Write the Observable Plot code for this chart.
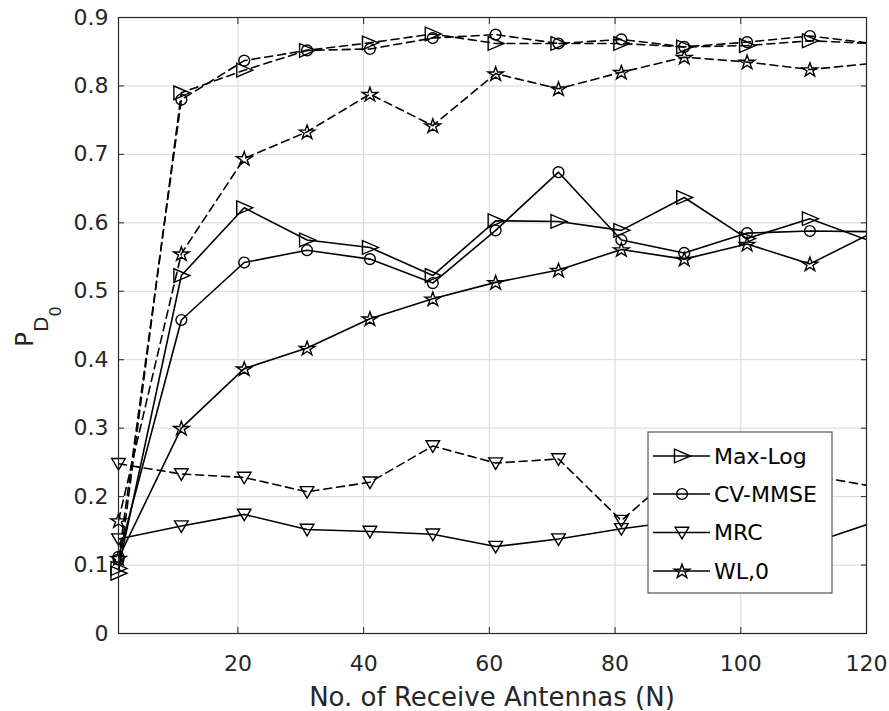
<!DOCTYPE html>
<html><head><meta charset="utf-8">
<script src="https://cdn.jsdelivr.net/npm/d3@7"></script>
<script src="https://cdn.jsdelivr.net/npm/@observablehq/plot@0.6"></script>
<style>body{margin:0;background:#fff}</style>
</head><body><div id="chart"></div>
<script>
// ---- data ----
const N = [1, 11, 21, 31, 41, 51, 61, 71, 81, 91, 101, 111, 121];
const maxLogSolid  = [0.095, 0.523, 0.622, 0.575, 0.564, 0.523, 0.603, 0.602, 0.589, 0.637, 0.577, 0.606, 0.572];
const maxLogDashed = [0.088, 0.790, 0.823, 0.852, 0.863, 0.876, 0.862, 0.862, 0.862, 0.857, 0.859, 0.866, 0.862];
const cvSolid      = [0.112, 0.458, 0.542, 0.560, 0.547, 0.512, 0.589, 0.674, 0.575, 0.556, 0.585, 0.588, 0.587];
const cvDashed     = [0.108, 0.780, 0.837, 0.852, 0.854, 0.870, 0.875, 0.862, 0.868, 0.857, 0.864, 0.873, 0.862];
const mrcSolid     = [0.138, 0.157, 0.174, 0.152, 0.149, 0.145, 0.127, 0.138, 0.153, 0.165, 0.150, 0.131, 0.162];
const mrcDashed    = [0.248, 0.233, 0.228, 0.207, 0.221, 0.274, 0.249, 0.255, 0.165, 0.245, 0.235, 0.231, 0.215];
const wlSolid      = [0.110, 0.300, 0.387, 0.417, 0.460, 0.489, 0.513, 0.531, 0.561, 0.547, 0.569, 0.540, 0.586];
const wlDashed     = [0.165, 0.555, 0.694, 0.733, 0.788, 0.742, 0.818, 0.796, 0.820, 0.842, 0.835, 0.824, 0.833];
const xTicks = [20, 40, 60, 80, 100, 120];
const yTicks = [0, 0.1, 0.2, 0.3, 0.4, 0.5, 0.6, 0.7, 0.8, 0.9];
const legendLabels = ["Max-Log", "CV-MMSE", "MRC", "WL,0"];
const xLabel = "No. of Receive Antennas (N)";

// ---- marker shapes (MATLAB-like) ----
const triRight = {draw(c) { c.moveTo(-7.5, -6.8); c.lineTo(8.5, 0); c.lineTo(-7.5, 6.8); c.closePath(); }};
const triDown  = {draw(c) { c.moveTo(-6.8, -5.2); c.lineTo(6.8, -5.2); c.lineTo(0, 6.3); c.closePath(); }};
const circ     = {draw(c) { const r = 5.4; c.moveTo(r, 0); c.arc(0, 0, r, 0, 2 * Math.PI); c.closePath(); }};
const star5    = {draw(c) {
  const R = 7.4, ri = R * 0.382, sx = 1.1;
  for (let i = 0; i < 10; i++) {
    const a = -Math.PI / 2 + i * Math.PI / 5, rr = i % 2 ? ri : R;
    const px = Math.cos(a) * rr * sx, py = Math.sin(a) * rr + 0.6;
    i ? c.lineTo(px, py) : c.moveTo(px, py);
  }
  c.closePath();
}};

const series = [
  {name: "Max-Log", vals: maxLogDashed, dash: true,  sym: triRight},
  {name: "CV-MMSE", vals: cvDashed,     dash: true,  sym: circ},
  {name: "MRC",     vals: mrcDashed,    dash: true,  sym: triDown},
  {name: "WL,0",    vals: wlDashed,     dash: true,  sym: star5},
  {name: "Max-Log", vals: maxLogSolid,  dash: false, sym: triRight},
  {name: "CV-MMSE", vals: cvSolid,      dash: false, sym: circ},
  {name: "MRC",     vals: mrcSolid,     dash: false, sym: triDown},
  {name: "WL,0",    vals: wlSolid,      dash: false, sym: star5}
];

const FONT = "DejaVu Sans";
const AX = "#262626";
const lineMarks = series.flatMap(s => {
  const rows = N.map((x, i) => ({x, y: s.vals[i]}));
  return [
    Plot.line(rows, {x: "x", y: "y", stroke: "black", strokeWidth: 1.6,
      strokeDasharray: s.dash ? "8,5" : null, clip: true}),
    Plot.dot(rows.filter(d => d.x <= 120), {x: "x", y: "y", symbol: s.sym,
      stroke: "black", fill: "none", strokeWidth: 1.4, r: 5})
  ];
});

const svg = Plot.plot({
  width: 889, height: 711,
  marginLeft: 118, marginRight: 23, marginTop: 17, marginBottom: 78,
  style: {fontFamily: FONT, fontSize: "22px", color: AX, background: "#fff"},
  x: {domain: [1, 120], label: null},
  y: {domain: [0, 0.9], label: null},
  marks: [
    Plot.gridX(xTicks, {stroke: "#dedede", strokeOpacity: 1, strokeWidth: 1.2}),
    Plot.gridY(yTicks, {stroke: "#dedede", strokeOpacity: 1, strokeWidth: 1.2}),
    ...lineMarks,
    Plot.frame({stroke: AX, strokeWidth: 1.2}),
    Plot.axisX(xTicks, {anchor: "bottom", tickSize: 0, tickPadding: 22, label: null, fontSize: 22, fill: AX}),
    Plot.axisX(xTicks, {anchor: "bottom", tickSize: -6, text: null, label: null, stroke: AX}),
    Plot.axisX(xTicks, {anchor: "top", tickSize: -6, text: null, label: null, stroke: AX}),
    Plot.axisY(yTicks, {anchor: "left", tickSize: 0, tickPadding: 10, label: null, fontSize: 22, fill: AX,
      tickFormat: d => d === 0 ? "0" : d.toFixed(1)}),
    Plot.axisY(yTicks, {anchor: "left", tickSize: -6, text: null, label: null, stroke: AX}),
    Plot.axisY(yTicks, {anchor: "right", tickSize: -6, text: null, label: null, stroke: AX})
  ]
});

const root = d3.select(svg);
// x label
root.append("text").attr("x", 492).attr("y", 706).attr("text-anchor", "middle")
  .attr("font-family", FONT).attr("font-size", 26).attr("fill", AX).text(xLabel);
// y label P_{D_0}
const yl = root.append("text").attr("transform", "translate(33,347) rotate(-90)")
  .attr("text-anchor", "start").attr("font-family", FONT).attr("fill", AX);
yl.append("tspan").attr("font-size", 25).text("P");
yl.append("tspan").attr("font-size", 20).attr("dy", 15).text("D");
yl.append("tspan").attr("font-size", 16).attr("dy", 13).text("0");

// legend
const lg = root.append("g").attr("text-anchor", "start");
lg.append("rect").attr("x", 648).attr("y", 432).attr("width", 184).attr("height", 161)
  .attr("fill", "white").attr("stroke", "#555").attr("stroke-width", 1.2);
const legSyms = [triRight, circ, triDown, star5];
const rowY = [456, 494, 532.5, 571];
legendLabels.forEach((lab, i) => {
  const y = rowY[i];
  lg.append("line").attr("x1", 653).attr("x2", 710).attr("y1", y).attr("y2", y)
    .attr("stroke", "black").attr("stroke-width", 1.6);
  lg.append("path").attr("d", d3.symbol().type(legSyms[i])())
    .attr("transform", `translate(682,${y})`).attr("fill", "none").attr("stroke", "black").attr("stroke-width", 1.4);
  lg.append("text").attr("x", 714).attr("y", y).attr("dy", "0.36em").attr("text-anchor", "start")
    .attr("font-family", FONT).attr("font-size", 22).attr("fill", "black").text(lab);
});

document.getElementById("chart").append(svg);
</script>
</body></html>
